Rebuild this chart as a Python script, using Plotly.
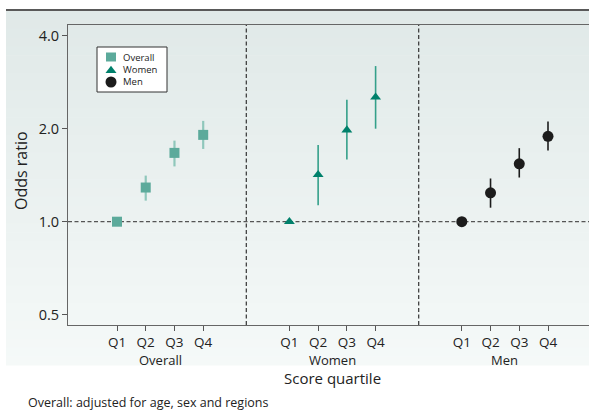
import math
import plotly.graph_objects as go

# ---------------- data ----------------
quartiles = ["Q1", "Q2", "Q3", "Q4"]
groups = ["Overall", "Women", "Men"]

overall_or = [1.00, 1.29, 1.67, 1.91]
overall_lo = [1.00, 1.17, 1.51, 1.72]
overall_hi = [1.00, 1.41, 1.83, 2.12]

women_or = [1.00, 1.42, 1.98, 2.53]
women_lo = [1.00, 1.13, 1.59, 2.00]
women_hi = [1.00, 1.77, 2.48, 3.19]

men_or = [1.00, 1.24, 1.54, 1.89]
men_lo = [1.00, 1.11, 1.39, 1.70]
men_hi = [1.00, 1.38, 1.73, 2.11]

y_ticks = [0.5, 1.0, 2.0, 4.0]
y_ticktext = ["0.5", "1.0", "2.0", "4.0"]

# ---------------- layout helpers ----------------
W, H = 589, 410
ML, MR, MT, MB = 68, 0, 25, 85
PW, PH = W - ML - MR, H - MT - MB


def px_x(p):
    return (p - ML) / PW


def px_y(p):
    return (H - MB - p) / PH


FONT = "Open Sans"
TXT = "#222"
group_gap = 6
xpos = [[g * group_gap + i + 1 for i in range(len(quartiles))] for g in range(len(groups))]

fig = go.Figure()

series = [
    (overall_or, overall_lo, overall_hi, "square", 10, "#5caa9b", "#8fc7bb", 2.2),
    (women_or, women_lo, women_hi, "triangle-up", 9.5, "#00806b", "#34a08a", 1.6),
    (men_or, men_lo, men_hi, "circle", 11, "#1c1c1c", "#1c1c1c", 1.6),
]
for gi, (v, lo, hi, sym, size, col, ecol, eth) in enumerate(series):
    fig.add_trace(go.Scatter(
        x=xpos[gi], y=v, mode="markers", name=groups[gi], showlegend=False,
        marker=dict(symbol=sym, size=size, color=col, line=dict(width=0)),
        error_y=dict(type="data", symmetric=False,
                     array=[h - a for h, a in zip(hi, v)],
                     arrayminus=[a - l for a, l in zip(v, lo)],
                     color=ecol, thickness=eth, width=0),
    ))

shapes = []
# gradient background panel
top_px, bot_px = 11, 365
n = 40
c0 = (0xE0, 0xE9, 0xE8)
c1 = (0xF5, 0xF9, 0xF8)
for i in range(n):
    t = i / (n - 1)
    c = tuple(int(round(c0[k] + (c1[k] - c0[k]) * t)) for k in range(3))
    y0 = top_px + (bot_px - top_px) * i / n
    y1 = top_px + (bot_px - top_px) * (i + 1) / n + 0.6
    shapes.append(dict(type="rect", xref="paper", yref="paper", layer="below",
                       x0=px_x(6), x1=1.0, y0=px_y(y1), y1=px_y(y0),
                       fillcolor="rgb(%d,%d,%d)" % c, line=dict(width=0)))
# top black rule
shapes.append(dict(type="line", xref="paper", yref="paper", x0=px_x(6), x1=1.0,
                   y0=px_y(10), y1=px_y(10), line=dict(color="#222", width=1.5)))
# reference line at OR = 1
shapes.append(dict(type="line", xref="paper", yref="y", x0=0, x1=1, y0=1, y1=1,
                   line=dict(color="#555", width=1.2, dash="4px,2.5px"), layer="below"))
# group separators
for g in range(len(groups) - 1):
    xs = (xpos[g][-1] + xpos[g + 1][0]) / 2
    shapes.append(dict(type="line", xref="x", yref="paper", x0=xs, x1=xs, y0=0, y1=1,
                       line=dict(color="#333", width=1.2, dash="4px,2.5px")))

# legend box (manual)
shapes.append(dict(type="rect", xref="paper", yref="paper",
                   x0=px_x(97), x1=px_x(167), y0=px_y(92), y1=px_y(47),
                   fillcolor="white", line=dict(color="#333", width=1)))
lx = px_x(111)
leg_y = [57, 69.5, 82]
shapes.append(dict(type="rect", xref="paper", yref="paper", xsizemode="pixel", ysizemode="pixel",
                   xanchor=lx, yanchor=px_y(leg_y[0]), x0=-5, x1=5, y0=-4.5, y1=4.5,
                   fillcolor="#5caa9b", line=dict(width=0)))
shapes.append(dict(type="path", xref="paper", yref="paper", xsizemode="pixel", ysizemode="pixel",
                   xanchor=lx, yanchor=px_y(leg_y[1]), path="M-5.5,-3.5 L5.5,-3.5 L0,3.8 Z",
                   fillcolor="#00806b", line=dict(width=0)))
shapes.append(dict(type="circle", xref="paper", yref="paper", xsizemode="pixel", ysizemode="pixel",
                   xanchor=lx, yanchor=px_y(leg_y[2]), x0=-5.5, x1=5.5, y0=-5.5, y1=5.5,
                   fillcolor="#1c1c1c", line=dict(width=0)))

annotations = []
for name, yy in zip(groups, leg_y):
    annotations.append(dict(text=name, xref="paper", yref="paper", x=px_x(121), y=px_y(yy),
                            xanchor="left", yanchor="middle", showarrow=False,
                            font=dict(family=FONT, size=9.5, color=TXT)))
for g, name in enumerate(groups):
    annotations.append(dict(text=name, xref="x", yref="paper",
                            x=(xpos[g][0] + xpos[g][-1]) / 2, y=px_y(360),
                            xanchor="center", yanchor="middle", showarrow=False,
                            font=dict(family=FONT, size=13, color=TXT)))
annotations.append(dict(text="Score quartile", xref="x", yref="paper",
                        x=(xpos[1][0] + xpos[1][-1]) / 2, y=px_y(378),
                        xanchor="center", yanchor="middle", showarrow=False,
                        font=dict(family=FONT, size=15, color=TXT)))
annotations.append(dict(text="Odds ratio", xref="paper", yref="paper",
                        x=px_x(21), y=px_y(171), textangle=-90,
                        xanchor="center", yanchor="middle", showarrow=False,
                        font=dict(family=FONT, size=16, color=TXT)))
annotations.append(dict(text="Overall: adjusted for age, sex and regions", xref="paper", yref="paper",
                        x=px_x(26), y=px_y(402), xanchor="left", yanchor="middle", showarrow=False,
                        font=dict(family=FONT, size=12.5, color=TXT)))

all_x = [x for grp in xpos for x in grp]
ppu = (548 - 117) / (all_x[-1] - all_x[0])
xr = [all_x[0] - (117 - ML) / ppu, all_x[0] + (W - MR - 117) / ppu]
per_doubling = 93.0
y_top = (221.7 - MT) / per_doubling
y_bot = -(H - MB - 221.7) / per_doubling
yr = [y_bot * math.log10(2), y_top * math.log10(2)]

fig.update_layout(
    width=W, height=H, margin=dict(l=ML, r=MR, t=MT, b=MB),
    paper_bgcolor="white", plot_bgcolor="rgba(0,0,0,0)",
    font=dict(family=FONT, color=TXT),
    shapes=shapes, annotations=annotations, showlegend=False,
    xaxis=dict(range=xr, tickvals=all_x, ticktext=quartiles * len(groups),
               showgrid=False, zeroline=False, showline=True, linecolor="#666", linewidth=1,
               mirror=True, ticks="outside", ticklen=5, tickcolor="#555",
               tickfont=dict(family=FONT, size=13.5, color=TXT)),
    yaxis=dict(type="log", range=yr, tickvals=y_ticks, ticktext=y_ticktext,
               showgrid=False, zeroline=False, showline=True, linecolor="#666", linewidth=1,
               mirror=True, ticks="outside", ticklen=5, tickcolor="#555",
               tickfont=dict(family=FONT, size=14.5, color=TXT)),
)

fig.write_html("out.html", config={"displayModeBar": False},
               post_script="document.body.style.margin='0';document.body.style.overflow='hidden';")
